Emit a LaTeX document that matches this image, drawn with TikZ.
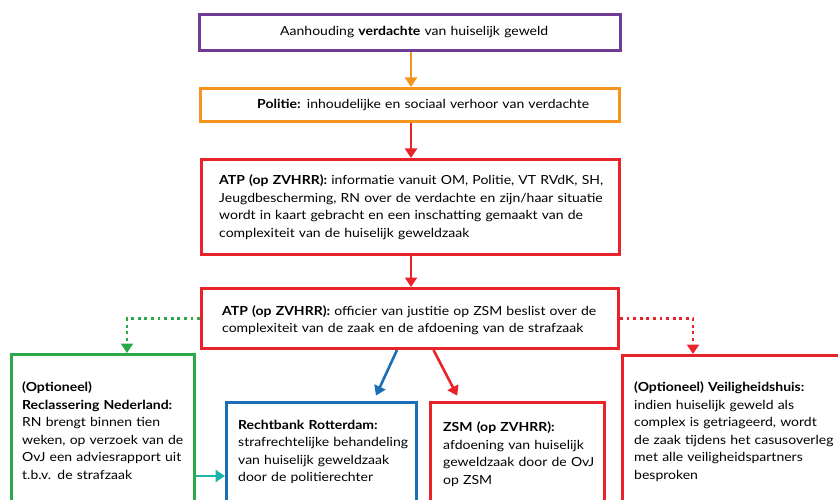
\documentclass[tikz,border=0pt]{standalone}
\usepackage{fontspec}
\setmainfont{Lato}[FakeStretch=1.12]
\usetikzlibrary{arrows.meta,calc}
\definecolor{cpurple}{HTML}{6F3B96}
\definecolor{corange}{HTML}{F7941D}
\definecolor{cred}{HTML}{E8232A}
\definecolor{cgreen}{HTML}{2BA84A}
\definecolor{cblue}{HTML}{1B6EB5}
\definecolor{cteal}{HTML}{1CB5AC}
\tikzset{
  box/.style={draw=#1, line width=3pt, anchor=north west, inner sep=0pt, rectangle},
  txt/.style={anchor=base west, align=left, inner sep=0pt, text width=440pt,
    font=\fontsize{12.5}{17.5}\selectfont},
  arr/.style={draw=#1, line width=2.6pt, -{Triangle[width=12pt,length=9.5pt]}},
  dotarr/.style={draw=#1, line width=2.7pt, dash pattern=on 2.8pt off 3.8pt,
    -{Triangle[width=12pt,length=9.5pt]}}
}
\begin{document}
\begin{tikzpicture}[x=1pt,y=1pt]
\useasboundingbox (0,0) rectangle (838,-500);
\clip (0,0) rectangle (838,-500);
% boxes
\node[box=cpurple, minimum width=421pt, minimum height=36pt] (b1) at (198,-13) {};
\node[box=corange, minimum width=419pt, minimum height=33pt] (b2) at (199,-87) {};
\node[box=cred, minimum width=418pt, minimum height=95pt] (b3) at (200,-158) {};
\node[box=cred, minimum width=417pt, minimum height=60pt] (b4) at (200,-287) {};
\node[box=cgreen, minimum width=183pt, minimum height=170pt] (rn) at (10,-353) {};
\node[box=cblue, minimum width=190pt, minimum height=130pt] (rb) at (225,-401) {};
\node[box=cred, minimum width=174pt, minimum height=130pt] (zsm) at (429,-401) {};
\node[box=cred, minimum width=240pt, minimum height=170pt] (vh) at (621,-354) {};
% texts
\node[txt] (t1) at (280,-36) {Aanhouding \textbf{verdachte} van huiselijk geweld};
\node[txt] (t2) at (257,-108.7) {\textbf{Politie:} inhoudelijke en sociaal verhoor van verdachte};
\node[txt] (t3) at (219,-184.5) {\textbf{ATP (op ZVHRR):} informatie vanuit OM, Politie, VT RVdK, SH,\\
Jeugdbescherming, RN over de verdachte en zijn/haar situatie\\
wordt in kaart gebracht en een inschatting gemaakt van de\\
complexiteit van de huiselijk geweldzaak};
\node[txt] (t4) at (222,-315.3) {\textbf{ATP (op ZVHRR):} officier van justitie op ZSM beslist over de\\
complexiteit van de zaak en de afdoening van de strafzaak};
\node[txt] (t5) at (22,-391.7) {\textbf{(Optioneel)}\\
\textbf{Reclassering Nederland:}\\
RN brengt binnen tien\\
weken, op verzoek van de\\
OvJ een adviesrapport uit\\
t.b.v. de strafzaak};
\node[txt] (t6) at (238,-429) {\textbf{Rechtbank Rotterdam:}\\
strafrechtelijke behandeling\\
van huiselijk geweldzaak\\
door de politierechter};
\node[txt] (t7) at (443,-431.7) {\textbf{ZSM (op ZVHRR):}\\
afdoening van huiselijk\\
geweldzaak door de OvJ\\
op ZSM};
\node[txt] (t8) at (634,-391.7) {\textbf{(Optioneel) Veiligheidshuis:}\\
indien huiselijk geweld als\\
complex is getriageerd, wordt\\
de zaak tijdens het casusoverleg\\
met alle veiligheidspartners\\
besproken};
% helper coordinates
\coordinate (ax) at (411,0);
\coordinate (gx) at (127,0);
\coordinate (rx) at (693,0);
\coordinate (ty) at (0,-476);
% connectors
\draw[arr=corange] (b1.south -| ax) -- (b2.north -| ax);
\draw[arr=cred] (b2.south -| ax) -- (b3.north -| ax);
\draw[arr=cred] (b3.south -| ax) -- (b4.north -| ax);
\draw[dotarr=cgreen] (b4.west) -| (gx |- rn.north);
\draw[dotarr=cred] (b4.east) -| (rx |- vh.north);
\draw[arr=cblue, shorten >=6pt] ([xshift=-13pt]b4.south) -- ([xshift=52pt]rb.north);
\draw[arr=cred, shorten >=6pt] ([xshift=23.5pt]b4.south) -- ([xshift=31pt]zsm.north west);
\draw[arr=cteal] (rn.east |- ty) -- (rb.west |- ty);
\end{tikzpicture}
\end{document}
